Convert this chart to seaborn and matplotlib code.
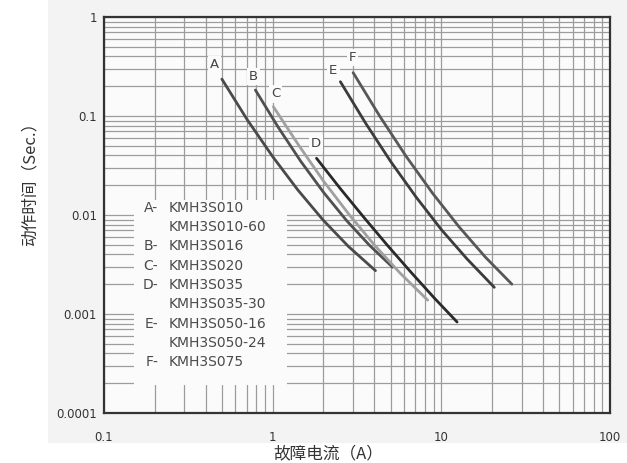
#fuse time-current curves, redrawn from a datasheet
import matplotlib
matplotlib.use("Agg")
import matplotlib.pyplot as plt
import seaborn as sns
import numpy as np
import pandas as pd
from matplotlib.patches import Rectangle
from matplotlib.ticker import LogLocator, NullFormatter

sns.set_theme(style="white")
plt.rcParams['font.family'] = ['DejaVu Sans']
cjk = ['Noto Sans CJK SC', 'DejaVu Sans']

#points: fault current (A) vs operating time (s)
a_x = [0.50, 0.706, 1.0, 1.41, 1.99, 2.81, 4.07]
a_y = [0.236, 0.0919, 0.0389, 0.0179, 0.0089, 0.00482, 0.00274]
b_x = [0.79, 1.08, 1.47, 2.01, 2.75, 3.76, 5.14]
b_y = [0.183, 0.0767, 0.0347, 0.0168, 0.00874, 0.00492, 0.00297]
c_x = [1.01, 1.43, 2.01, 2.84, 4.02, 5.68, 8.3]
c_y = [0.124, 0.0504, 0.0218, 0.0101, 0.00495, 0.0026, 0.00138]
d_x = [1.82, 2.51, 3.47, 4.79, 6.61, 9.12, 12.4]
d_y = [0.0374, 0.0186, 0.00948, 0.00494, 0.00264, 0.00144, 0.00083]
e_x = [2.52, 3.56, 5.02, 7.10, 10.0, 14.2, 20.6]
e_y = [0.222, 0.0844, 0.0345, 0.0151, 0.00712, 0.0036, 0.00186]
f_x = [3.0, 4.31, 6.18, 8.87, 12.7, 18.2, 26.2]
f_y = [0.274, 0.0998, 0.0392, 0.0166, 0.00764, 0.00377, 0.0020]

curve_names = ["A", "B", "C", "D", "E", "F"]
curve_x = [a_x, b_x, c_x, d_x, e_x, f_x]
curve_y = [a_y, b_y, c_y, d_y, e_y, f_y]
#where the letter sits next to each curve
label_x = [0.45, 0.77, 1.04, 1.80, 2.29, 2.97]
label_y = [0.33, 0.25, 0.167, 0.053, 0.29, 0.39]

legend_prefix = ["A-", "", "B-", "C-", "D-", "", "E-", "", "F-"]
legend_parts = ["KMH3S010", "KMH3S010-60", "KMH3S016", "KMH3S020", "KMH3S035",
                "KMH3S035-30", "KMH3S050-16", "KMH3S050-24", "KMH3S075"]

x_ticks = [0.1, 1, 10, 100]
x_ticklabels = ["0.1", "1", "10", "100"]
y_ticks = [0.0001, 0.001, 0.01, 0.1, 1]
y_ticklabels = ["0.0001", "0.001", "0.01", "0.1", "1"]

rows = []
for name, xs, ys in zip(curve_names, curve_x, curve_y):
    for x, y in zip(xs, ys):
        rows.append({"curve": name, "current": x, "time": y})
df = pd.DataFrame(rows)

palette = {"A": "#4a4a4a", "B": "#505050", "C": "#a0a0a0",
           "D": "#2a2a2a", "E": "#3c3c3c", "F": "#585858"}

fig = plt.figure(figsize=(6.27, 4.63), dpi=100)
#light grey of the scanned sheet, kept behind the axes
bg = Rectangle((48 / 627, 1 - 443 / 463), 1, 1, transform=fig.transFigure,
               facecolor="#f3f3f3", edgecolor="none", zorder=-5)
fig.patches.append(bg)
ax = fig.add_axes([104 / 627, 1 - 413 / 463, 506 / 627, 396 / 463])
ax.set_zorder(2)
ax.set_facecolor("#fbfbfb")

sns.lineplot(data=df, x="current", y="time", hue="curve", palette=palette,
             estimator=None, sort=False, linewidth=2.0, legend=False, ax=ax, zorder=3)

ax.set_xscale("log")
ax.set_yscale("log")
ax.set_xlim(0.1, 100)
ax.set_ylim(0.0001, 1)
ax.set_xticks(x_ticks)
ax.set_xticklabels(x_ticklabels)
ax.set_yticks(y_ticks)
ax.set_yticklabels(y_ticklabels)
ax.xaxis.set_minor_locator(LogLocator(base=10, subs=np.arange(2, 10)))
ax.yaxis.set_minor_locator(LogLocator(base=10, subs=np.arange(2, 10)))
ax.xaxis.set_minor_formatter(NullFormatter())
ax.yaxis.set_minor_formatter(NullFormatter())
ax.tick_params(axis="both", which="both", length=0, labelsize=8.5, labelcolor="#333333")
ax.tick_params(axis="x", pad=13)
ax.tick_params(axis="y", pad=5)
ax.set_axisbelow(True)
ax.grid(which="both", color="#9c9c9c", linewidth=0.9)
for s in ax.spines.values():
    s.set_color("#333333")
    s.set_linewidth(1.6)
ax.set_xlabel("")
ax.set_ylabel("")

#white patch behind the model list
ax.add_patch(Rectangle((0.059, 0.071), 0.303, 0.467, transform=ax.transAxes,
                       facecolor="#fbfbfb", edgecolor="none", zorder=1))

for name, lx, ly in zip(curve_names, label_x, label_y):
    ax.text(lx, ly, name, fontsize=9.5, color="#444444", ha="center", va="center", zorder=4,
            bbox=dict(facecolor="#fbfbfb", edgecolor="none", pad=1.5))

for i, (p, t) in enumerate(zip(legend_prefix, legend_parts)):
    yy = 0.518 - i * 0.0487
    ax.text(0.107, yy, p, transform=ax.transAxes, fontsize=10, color="#4a4a4a",
            ha="right", va="center", zorder=4)
    ax.text(0.128, yy, t, transform=ax.transAxes, fontsize=10, color="#4a4a4a",
            ha="left", va="center", zorder=4)

fig.text(328 / 627, 1 - 454 / 463, "故障电流（A）", family=cjk, fontsize=12,
         color="#333333", ha="center", va="center")
fig.text(30 / 627, 1 - 180 / 463, "动作时间（Sec.）", family=cjk, fontsize=12,
         color="#333333", ha="center", va="center", rotation=90)

fig.savefig("out.png", dpi=100)
